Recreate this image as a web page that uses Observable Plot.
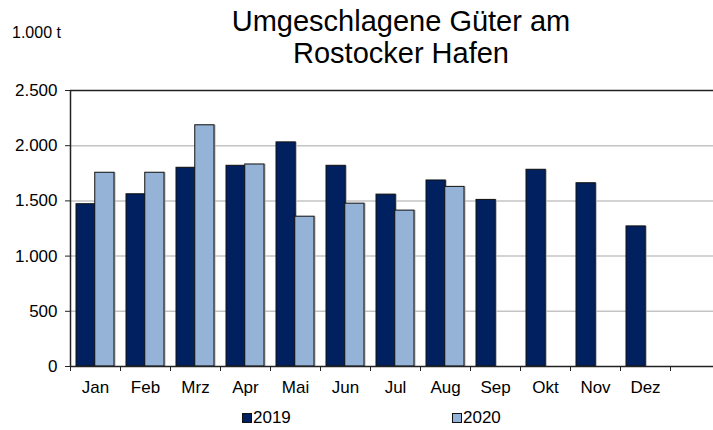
<!DOCTYPE html>
<html><head><meta charset="utf-8">
<script src="https://cdn.jsdelivr.net/npm/d3@7"></script>
<script src="https://cdn.jsdelivr.net/npm/@observablehq/plot@0.6"></script>
<style>
body{margin:0;background:#fff;font-family:"Liberation Sans",Arial,sans-serif;color:#000;}
#wrap{position:relative;width:713px;height:430px;overflow:hidden;}
#chart{position:absolute;left:0;top:0;}
#unit{position:absolute;left:12px;top:24px;font-size:16px;line-height:18px;}
#title{position:absolute;left:201px;width:400px;top:5px;text-align:center;font-size:29px;line-height:32px;}
.lg{position:absolute;top:408px;font-size:17px;line-height:20px;}
.sw{position:absolute;width:8px;height:8px;border:1px solid #111;top:413px;}
</style></head><body>
<div id="wrap">
  <div id="chart"></div>
  <div id="unit"></div>
  <div id="title"></div>
  <div id="legend"></div>
</div>
<script>
const months = ["Jan","Feb","Mrz","Apr","Mai","Jun","Jul","Aug","Sep","Okt","Nov","Dez"];
const slots = [...months, ""];
const series = ["2019","2020"];
const values2019 = [1470,1560,1800,1818,2030,1818,1557,1685,1509,1782,1660,1269];
const values2020 = [1755,1755,2185,1830,1357,1475,1412,1627];
const yTicks = [0,500,1000,1500,2000,2500];
const colors = ["#002060","#95B3D7"];
const titleLines = ["Umgeschlagene Güter am","Rostocker Hafen"];
const unitLabel = "1.000 t";

const fmt = d3.formatLocale({decimal:",",thousands:".",grouping:[3],currency:["","€"]}).format(",");
const rows19 = values2019.map((v,i)=>({month:months[i], value:v}));
const rows20 = values2020.map((v,i)=>({month:months[i], value:v}));

const chart = Plot.plot({
  width:713, height:430, marginLeft:70, marginRight:-7, marginTop:90, marginBottom:64,
  style:{fontFamily:"Liberation Sans, Arial, sans-serif", background:"transparent", color:"#000"},
  x:{domain:slots, paddingInner:0.25, paddingOuter:0.125, axis:null},
  y:{domain:[0,2500], axis:null},
  marks:[
    Plot.ruleY(yTicks.filter(d=>d>0 && d<2500), {stroke:"#c4c4c4", strokeWidth:1.5}),
    Plot.barY(rows19, {x:"month", y:"value", fill:"#b0b0b0", insetRight:18.75, dx:1.5}),
    Plot.barY(rows20, {x:"month", y:"value", fill:"#b0b0b0", insetLeft:18.75, dx:1.5}),
    Plot.barY(rows19, {x:"month", y:"value", fill:colors[0], stroke:"#111", strokeWidth:1, insetRight:18.75}),
    Plot.barY(rows20, {x:"month", y:"value", fill:colors[1], stroke:"#111", strokeWidth:1, insetLeft:18.75}),
    Plot.ruleY([0,2500], {stroke:"#222", strokeWidth:1.5}),
    Plot.ruleX([slots[0]], {y1:0, y2:2500, dx:-25, stroke:"#222", strokeWidth:1.5}),
    Plot.axisY({ticks:yTicks, tickFormat:fmt, tickSize:5, tickPadding:8, fontSize:17, stroke:"#222", label:null}),
    Plot.axisX({ticks:slots, tickSize:5, tickFormat:()=>"", dx:-25, stroke:"#222", label:null}),
    Plot.axisX({ticks:months, tickSize:0, tickPadding:14, fontSize:17, label:null})
  ]
});
document.getElementById("chart").appendChild(chart);
document.getElementById("unit").textContent = unitLabel;
document.getElementById("title").innerHTML = titleLines.join("<br>");
const lg = document.getElementById("legend");
const lgX = [242, 452];
series.forEach((s,i)=>{
  const sw = document.createElement("div"); sw.className="sw"; sw.style.left=lgX[i]+"px"; sw.style.background=colors[i]; lg.appendChild(sw);
  const t = document.createElement("div"); t.className="lg"; t.style.left=(lgX[i]+11)+"px"; t.textContent=s; lg.appendChild(t);
});
</script>
</body></html>
